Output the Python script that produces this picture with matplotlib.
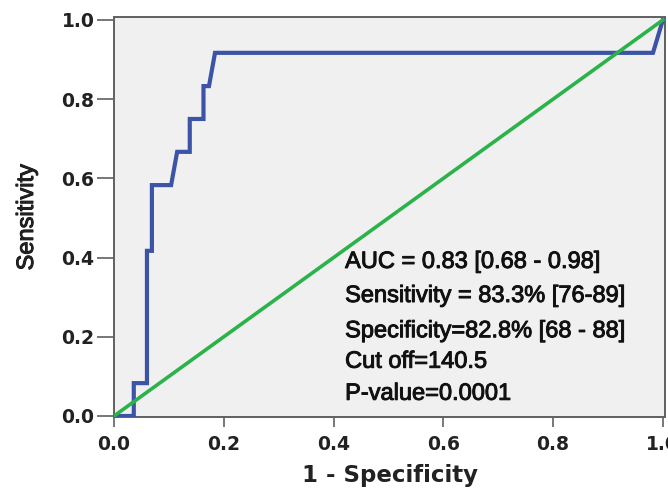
import matplotlib
matplotlib.use("Agg")
import matplotlib.pyplot as plt
import matplotlib.patheffects as pe

# ROC curve points (1 - specificity, sensitivity)
fpr = [0.0, 0.036, 0.036, 0.060, 0.060, 0.069, 0.069, 0.104, 0.115, 0.138, 0.138,
       0.163, 0.163, 0.173, 0.184, 0.982, 1.0]
tpr = [0.0, 0.0, 0.083, 0.083, 0.417, 0.417, 0.583, 0.583, 0.667, 0.667, 0.75,
       0.75, 0.833, 0.833, 0.917, 0.917, 1.0]
ref_x = [0.0, 1.0]
ref_y = [0.0, 1.0]

ticks = [0.0, 0.2, 0.4, 0.6, 0.8, 1.0]
tick_labels = ["0.0", "0.2", "0.4", "0.6", "0.8", "1.0"]

notes = ["AUC = 0.83 [0.68 - 0.98]",
         "Sensitivity = 83.3% [76-89]",
         "Specificity=82.8% [68 - 88]",
         "Cut off=140.5",
         "P-value=0.0001"]
note_y = [0.389, 0.303, 0.214, 0.137, 0.056]

thick = [pe.withStroke(linewidth=0.7, foreground="#111111")]

fig = plt.figure(figsize=(6.68, 4.93), dpi=100)
ax = fig.add_axes([0.1707, 0.1542, 0.8249, 0.8114])
ax.set_facecolor("#f0f0f0")

ax.plot(fpr, tpr, color="#3b54a8", lw=3, solid_joinstyle="miter", zorder=3)
ax.plot(ref_x, ref_y, color="#2bb34a", lw=2.6, zorder=4)

ax.set_xlim(0, 1.004)
ax.set_ylim(-0.0025, 1.0076)
ax.set_xticks(ticks)
ax.set_xticklabels(tick_labels)
ax.set_yticks(ticks)
ax.set_yticklabels(tick_labels)

for s in ax.spines.values():
    s.set_color("#606060")
    s.set_linewidth(1.4)

ax.tick_params(axis="y", length=12, width=1.2, color="#606060", pad=2)
ax.tick_params(axis="x", length=7, width=1.2, color="#606060", pad=6)
for lab in ax.get_xticklabels() + ax.get_yticklabels():
    lab.set_fontfamily("DejaVu Sans")
    lab.set_fontweight("bold")
    lab.set_fontsize(13.5)
    lab.set_color("#222222")

ax.set_xlabel("1 - Specificity", fontfamily="DejaVu Sans", fontweight="bold",
              fontsize=16.5, color="#222222", labelpad=7)
ax.set_ylabel("Sensitivity", fontfamily="Liberation Sans", fontsize=17,
              color="#222222", labelpad=17, path_effects=thick)

for txt, yy in zip(notes, note_y):
    ax.text(0.421, yy, txt, fontfamily="Liberation Sans", fontsize=17,
            color="#111111", va="center", ha="left", zorder=5,
            path_effects=thick)

fig.savefig("out.png", dpi=100)
